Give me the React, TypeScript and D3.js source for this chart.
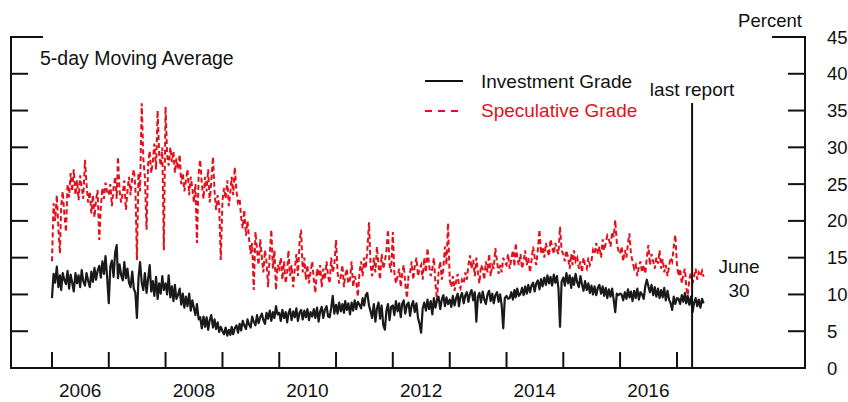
import React from "react";
import * as d3 from "d3";

// Dekadal (1st, 11th, 21st of each month) readings, Jan 2006 - Jun 2017
const startYear = 2006;
const igValues: number[] = [
  // 2006
  9.5, 12.8, 11.6, 13.8, 11.0, 12.6, 10.6, 12.9, 12.0, 11.4, 13.2, 10.8, 12.7, 11.6, 10.4, 12.9, 11.5, 12.6, 11.0, 13.3, 11.8, 11.2, 12.9, 11.9, 11.0, 13.1, 11.7, 13.6, 12.0, 13.2, 13.9, 12.3, 14.5, 12.8, 15.2, 12.5,
  // 2007
  8.8, 13.8, 14.6, 12.4, 15.7, 16.7, 12.2, 14.1, 12.7, 11.9, 14.4, 12.2, 13.5, 11.6, 11.0, 13.1, 10.8, 10.2, 6.8, 12.2, 14.4, 11.6, 10.6, 12.9, 10.2, 12.2, 14.0, 10.4, 11.8, 9.8, 12.4, 9.4, 11.5, 10.1, 12.5, 10.6,
  // 2008
  11.5, 10.0, 12.6, 9.6, 11.1, 9.1, 11.3, 9.4, 9.9, 10.8, 8.6, 10.1, 8.2, 9.7, 8.4, 10.1, 7.8, 9.2, 8.2, 7.2, 8.7, 6.6, 6.9, 5.4, 7.0, 5.6, 6.9, 5.2, 6.5, 7.2, 5.5, 6.6, 5.3, 6.2, 4.9, 5.6,
  // 2009
  5.0, 4.6, 5.5, 4.4, 5.2, 4.5, 5.6, 4.6, 5.4, 5.8, 4.8, 6.0, 5.1, 6.4, 5.8, 5.3, 6.6, 5.9, 5.5, 7.0, 6.3, 5.8, 7.2, 6.1, 6.9, 7.4, 6.5, 6.0, 7.5, 6.7, 7.8, 6.4, 7.6, 6.8, 8.4, 7.3,
  // 2010
  7.5, 6.4, 7.9, 6.8, 7.6, 6.2, 7.4, 8.0, 6.5, 7.7, 6.9, 8.1, 6.4, 7.5, 7.9, 6.6, 7.8, 6.9, 8.0, 6.5, 7.6, 7.0, 8.0, 6.8, 8.2, 6.3, 7.7, 8.3, 6.8, 7.9, 8.4, 7.0, 6.9, 8.2, 9.8, 7.4,
  // 2011
  8.6, 7.4, 8.9, 7.7, 8.7, 7.5, 9.1, 7.9, 8.8, 7.3, 8.9, 7.8, 9.2, 8.0, 9.0, 8.6, 8.1, 9.5, 8.5, 9.9, 10.2, 8.5, 7.7, 6.8, 8.7, 6.3, 8.1, 8.9, 6.7, 8.5, 5.8, 5.2, 7.8, 8.7, 6.5, 8.3,
  // 2012
  8.5, 7.2, 9.1, 7.7, 8.8, 6.9, 8.7, 9.2, 7.4, 8.6, 8.9, 7.1, 8.5, 9.1, 7.6, 8.8, 6.8, 6.0, 4.8, 8.1, 8.9, 7.8, 9.3, 8.0, 9.1, 7.3, 9.5, 8.2, 9.2, 9.7, 8.0, 9.3, 9.9, 8.4, 9.6, 8.7,
  // 2013
  9.3, 8.3, 9.8, 8.5, 9.5, 10.1, 8.4, 9.7, 10.2, 8.8, 9.9, 10.3, 9.0, 10.1, 10.6, 9.2, 10.3, 6.3, 9.7, 10.2, 8.9, 10.4, 9.3, 8.7, 10.0, 10.5, 9.1, 10.1, 8.8, 9.9, 10.3, 9.0, 10.0, 8.5, 5.4, 9.5,
  // 2014
  9.8, 9.4, 9.5, 10.3, 9.3, 10.6, 9.6, 10.8, 9.8, 10.1, 10.9, 9.9, 11.1, 10.1, 11.3, 10.3, 11.2, 11.6, 10.4, 11.5, 11.9, 10.7, 12.1, 11.1, 12.3, 11.3, 12.6, 11.5, 12.4, 11.2, 12.7, 11.6, 12.5, 10.8, 5.6, 11.7,
  // 2015
  12.3, 11.2, 12.9, 11.5, 12.6, 10.9, 12.3, 11.3, 12.8, 11.6, 11.0, 12.5, 11.4, 10.5, 11.8, 10.6, 11.5, 10.2, 11.2, 10.0, 11.1, 9.9, 10.9, 11.3, 10.1, 11.1, 9.8, 10.9, 9.5, 10.7, 9.7, 10.8, 9.3, 7.6, 10.1, 9.9,
  // 2016
  10.1, 10.0, 9.2, 10.3, 9.4, 10.7, 9.6, 10.4, 9.1, 10.5, 9.5, 10.8, 9.3, 10.3, 10.0, 9.4, 11.1, 12.0, 11.1, 10.3, 11.3, 9.9, 11.0, 9.7, 10.8, 9.5, 10.6, 9.6, 10.9, 9.2, 10.5, 9.3, 8.8, 7.9, 9.7, 8.7,
  // 2017
  9.5, 9.4, 8.7, 9.9, 9.0, 10.2, 8.8, 9.8, 8.6, 9.7, 7.6, 8.9, 9.5, 8.4, 9.3, 8.2, 9.4, 8.8,
];
const sgValues: number[] = [
  // 2006
  14.5, 22.4, 20.0, 23.5, 19.0, 15.6, 22.0, 24.0, 21.0, 18.5, 25.0, 23.2, 26.5, 24.0, 27.0, 23.5, 25.5, 22.8, 26.2, 24.5, 23.0, 28.3, 25.0, 22.5, 24.0, 21.0, 23.5, 20.5, 22.8, 24.2, 17.4, 22.0, 24.5, 23.0, 25.2, 24.0,
  // 2007
  23.5, 25.0, 22.0, 24.5, 26.0, 23.0, 28.7, 24.2, 22.5, 23.8, 25.5, 21.5, 24.0, 26.0, 23.5, 25.8, 27.0, 24.5, 14.7, 26.5, 24.0, 36.0, 28.5, 26.0, 18.8, 27.8, 29.5, 26.5, 28.0, 30.5, 27.0, 35.0, 29.0, 27.5, 30.0, 16.0,
  // 2008
  35.5, 29.0, 27.5, 30.0, 28.0, 29.5, 26.5, 28.5, 27.0, 29.0, 25.0, 26.5, 24.0, 25.5, 27.0, 23.5, 26.0, 24.5, 22.5, 25.0, 17.0, 26.5, 28.3, 25.0, 23.0, 26.0, 24.0, 27.0, 22.5, 25.5, 28.7, 24.0, 21.5, 23.5, 22.0, 14.7,
  // 2009
  22.8, 24.5, 23.0, 25.5, 22.0, 24.0, 26.0, 23.5, 27.3, 24.0, 22.5, 23.0, 20.5, 19.0, 21.5, 18.0, 20.0, 17.5, 15.5, 17.0, 10.6, 18.5, 16.0, 14.0, 17.5, 15.0, 13.0, 16.0, 14.5, 11.0, 15.5, 18.8, 13.5, 16.0, 10.6, 14.0,
  // 2010
  13.5, 15.0, 12.0, 14.5, 11.5, 13.0, 16.0, 12.5, 14.0, 11.0, 13.5, 15.5, 12.5, 17.0, 18.8, 13.0, 15.0, 12.0, 14.0, 11.5, 13.0, 14.5, 12.0, 10.2, 13.5, 12.5, 14.0, 11.0, 13.5, 12.0, 14.5, 12.5, 11.5, 15.0, 13.0, 14.0,
  // 2011
  17.4, 13.0, 11.5, 12.5, 14.0, 11.0, 12.5, 13.5, 11.5, 12.0, 14.5, 11.0, 12.5, 11.8, 9.7, 13.0, 14.5, 12.5, 15.0, 13.5, 16.0, 19.8, 14.0, 12.5, 15.0, 13.0, 16.5, 14.0, 12.0, 15.5, 13.5, 14.5, 16.0, 18.8, 14.0, 13.0,
  // 2012
  18.5, 13.0, 11.5, 12.5, 13.5, 11.0, 12.8, 14.0, 11.5, 9.5, 12.5, 13.0, 14.5, 12.0, 13.8, 15.0, 12.5, 13.5, 14.0, 12.0, 15.0, 13.0, 16.3, 14.0, 12.5, 13.5, 15.0, 11.5, 9.2, 13.0, 14.5, 12.0, 13.5, 16.5, 14.0, 19.7,
  // 2013
  12.0, 11.0, 12.5, 10.5, 11.8, 12.8, 11.2, 10.8, 12.0, 11.5, 13.0, 12.0, 14.0, 15.3, 13.5, 14.7, 12.5, 15.0, 13.0, 11.5, 14.0, 13.5, 12.0, 14.5, 13.0, 15.5, 12.5, 14.0, 13.5, 16.3, 14.5, 12.8, 14.0, 13.0, 15.0, 14.3,
  // 2014
  14.0, 15.5, 13.5, 14.8, 16.0, 13.8, 17.0, 15.0, 14.0, 15.5, 13.5, 14.5, 16.0, 14.0, 15.0, 13.0, 14.7, 16.5, 15.0, 14.0, 16.0, 18.8, 15.5, 16.5, 15.0, 17.0, 16.0, 15.2, 17.5, 16.5, 15.5, 17.0, 16.0, 15.5, 19.2, 16.0,
  // 2015
  15.5, 14.5, 16.0, 15.0, 13.5, 15.5, 14.0, 16.0, 14.5, 15.0, 13.5, 14.5, 13.0, 15.0, 14.0, 13.5, 15.0, 14.0, 14.5, 16.0, 15.5, 17.0, 15.5, 16.5, 15.0, 17.5, 16.0, 17.0, 18.0, 17.5, 16.5, 18.5, 17.8, 20.1, 17.0, 16.0,
  // 2016
  15.5, 16.5, 14.5, 16.0, 15.0, 17.0, 18.3, 15.5, 14.5, 13.5, 14.0, 12.5, 13.8, 14.5, 13.0, 14.0, 12.8, 15.0, 16.7, 14.0, 15.5, 14.5, 13.5, 15.0, 14.2, 16.0, 13.5, 14.8, 13.0, 14.0, 12.5, 13.8, 15.0, 14.5, 16.5, 18.1,
  // 2017
  14.0, 12.5, 13.5, 11.5, 12.8, 13.5, 11.0, 9.9, 12.0, 13.0, 11.5, 12.5, 13.5, 12.0, 13.0, 12.5, 13.2, 12.4,
];

const yTicks = [0, 5, 10, 15, 20, 25, 30, 35, 40, 45];
const xTickYears = [2006, 2007, 2008, 2009, 2010, 2011, 2012, 2013, 2014, 2015, 2016, 2017];
const xLabelYears = [2006, 2008, 2010, 2012, 2014, 2016];
const lastReportDate = new Date(2017, 3, 8);

const RED = "#e3101c";
const FONT = "'Liberation Sans', Arial, Helvetica, sans-serif";

function dekadDate(i: number): Date {
  const year = startYear + Math.floor(i / 36);
  const month = Math.floor((i % 36) / 3);
  const day = [1, 11, 21][i % 3];
  return new Date(year, month, day);
}

export default function App() {
  const W = 848, H = 402;
  const left = 11, right = 805, top = 37, bottom = 368;
  const x = d3.scaleTime().domain([new Date(2006, 0, 1), new Date(2017, 0, 1)]).range([52, 677]);
  const y = d3.scaleLinear().domain([0, 45]).range([bottom, top]);

  const line = d3
    .line<number>()
    .x((_, i) => x(dekadDate(i)))
    .y((v) => y(v));

  const igPath = line(igValues) || "";
  const sgPath = line(sgValues) || "";
  const lrX = x(lastReportDate);

  return (
    <svg
      width={W}
      height={H}
      style={{ position: "absolute", left: 0, top: 0, background: "#fff" }}
      fontFamily={FONT}
    >
      <rect x={0} y={0} width={W} height={H} fill="#fff" />
      {/* frame */}
      <g stroke="#111" strokeWidth={2} fill="none">
        <line x1={left} y1={top} x2={left} y2={bottom} />
        <line x1={right} y1={top} x2={right} y2={bottom} />
        <line x1={left - 1} y1={bottom} x2={right + 1} y2={bottom} />
        <line x1={left - 1} y1={top} x2={left + 32} y2={top} />
        <line x1={right - 33} y1={top} x2={right + 1} y2={top} />
        {yTicks.filter((t) => t > 0 && t < 45).map((t) => (
          <g key={t}>
            <line x1={left} y1={y(t)} x2={left + 17} y2={y(t)} />
            <line x1={right - 17} y1={y(t)} x2={right} y2={y(t)} />
          </g>
        ))}
        {xTickYears.map((yr) => (
          <line key={yr} x1={x(new Date(yr, 0, 1))} y1={bottom} x2={x(new Date(yr, 0, 1))} y2={bottom - 16} />
        ))}
      </g>
      {/* right tick labels */}
      {yTicks.map((t) => (
        <text key={t} x={827} y={y(t) + 6.5} fontSize={18.5} fill="#111">
          {t}
        </text>
      ))}
      <text x={770} y={27} fontSize={18.5} textAnchor="middle" fill="#111">
        Percent
      </text>
      {/* x labels */}
      {xLabelYears.map((yr) => (
        <text key={yr} x={x(new Date(yr, 6, 1))} y={397} fontSize={19} textAnchor="middle" fill="#111">
          {yr}
        </text>
      ))}
      {/* series */}
      <path d={sgPath} fill="none" stroke={RED} strokeWidth={2} strokeDasharray="5,3" />
      <path d={igPath} fill="none" stroke="#1a1a1a" strokeWidth={2.2} strokeLinejoin="round" />
      {/* last report line */}
      <line x1={lrX} y1={103} x2={lrX} y2={bottom} stroke="#111" strokeWidth={2} />
      <text x={lrX} y={96} fontSize={19} textAnchor="middle" fill="#111">
        last report
      </text>
      <text x={739} y={273} fontSize={19} textAnchor="middle" fill="#111">
        June
      </text>
      <text x={739} y={297} fontSize={19} textAnchor="middle" fill="#111">
        30
      </text>
      {/* annotation */}
      <text x={40} y={65} fontSize={19.5} fill="#111">
        5-day Moving Average
      </text>
      {/* legend */}
      <line x1={425} y1={81} x2={463} y2={81} stroke="#111" strokeWidth={2} />
      <text x={481} y={88} fontSize={19} fill="#111">
        Investment Grade
      </text>
      <line x1={425} y1={111} x2={463} y2={111} stroke={RED} strokeWidth={2} strokeDasharray="7,6" />
      <text x={481} y={117} fontSize={19} fill={RED}>
        Speculative Grade
      </text>
    </svg>
  );
}
